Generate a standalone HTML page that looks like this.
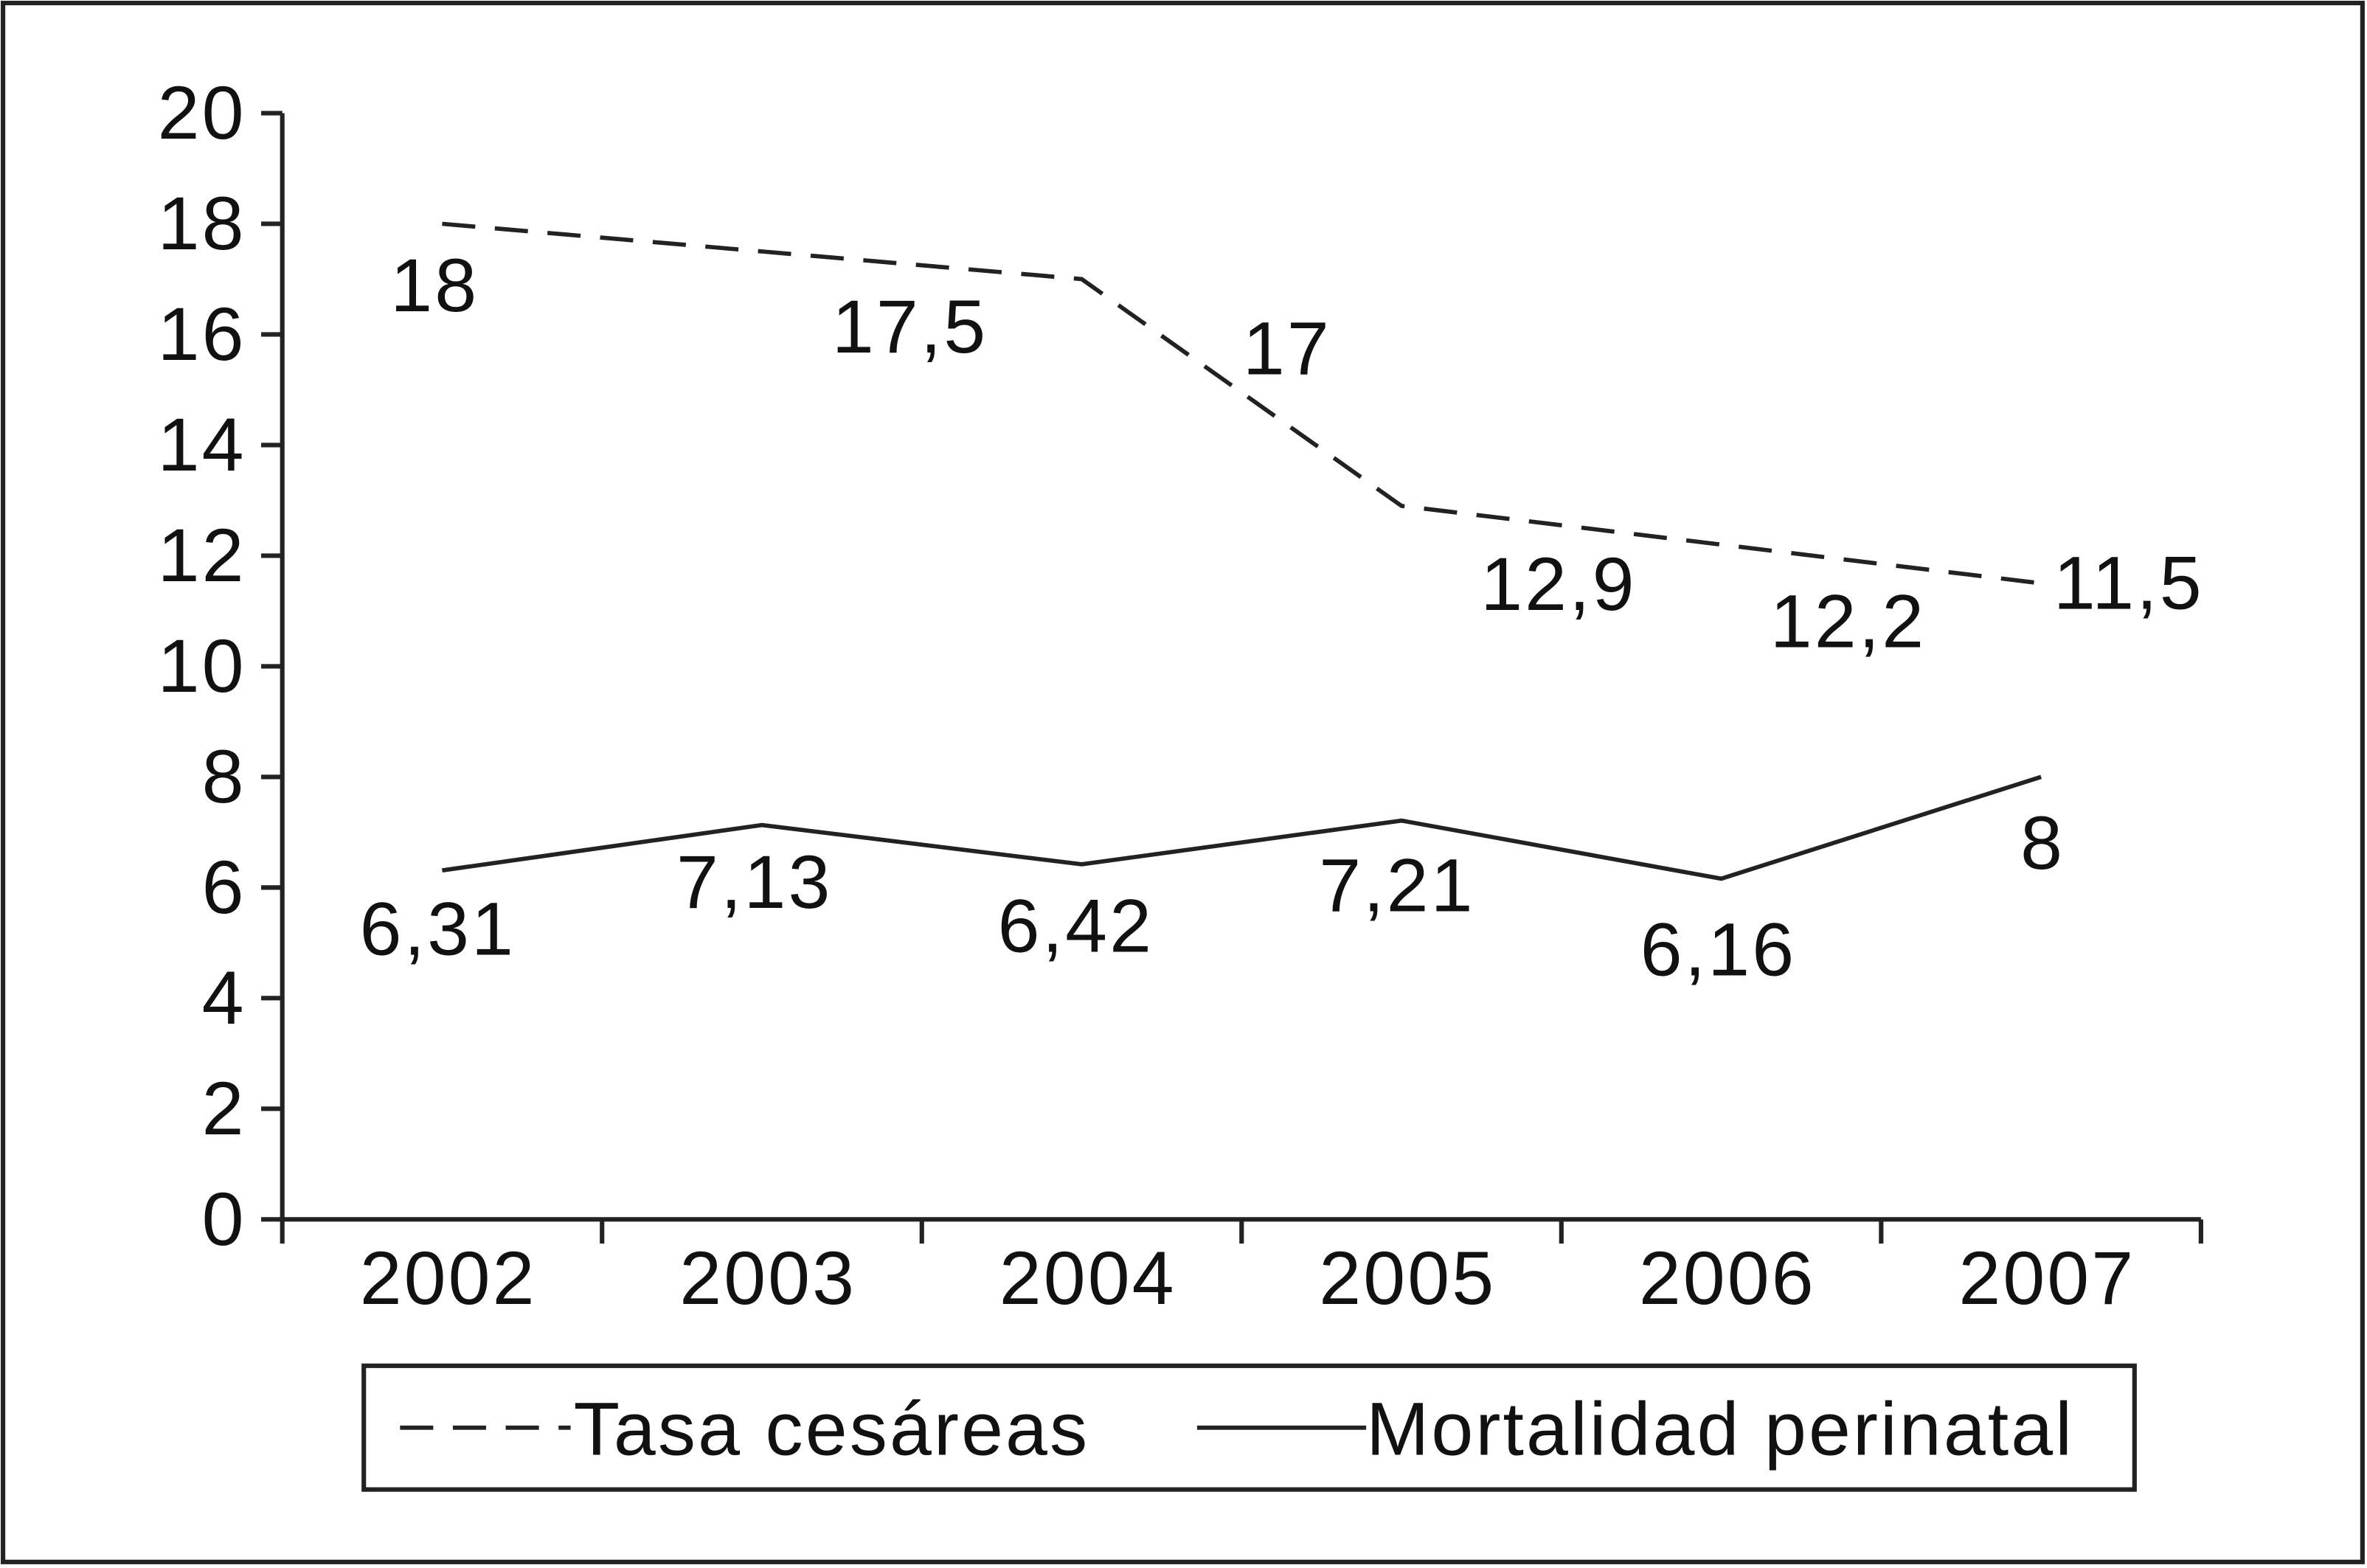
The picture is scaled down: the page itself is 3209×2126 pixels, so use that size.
<!DOCTYPE html>
<html><head><meta charset="utf-8"><style>
html,body{margin:0;padding:0;background:#fff;}
svg{display:block;}
text{font-family:"Liberation Sans",Arial,sans-serif;fill:#111;letter-spacing:1.5px;}
</style></head><body>
<svg id="chart" width="3209" height="2126" viewBox="0 0 1568 1039" preserveAspectRatio="none" xmlns="http://www.w3.org/2000/svg">
<rect x="2" y="2" width="1563" height="1033" fill="#fff" stroke="#222" stroke-width="3"/>
<g id="axes"></g>
<g id="series"></g>
<g>
<rect x="241" y="905" width="1173" height="82" fill="none" stroke="#222" stroke-width="3"/>
<line x1="265" y1="946" x2="378" y2="946" stroke="#222" stroke-width="2.8" stroke-dasharray="22,13"/>
<text x="380" y="964" font-size="50">Tasa cesáreas</text>
<line x1="793" y1="946" x2="905" y2="946" stroke="#222" stroke-width="2.8"/>
<text x="905" y="964" font-size="50">Mortalidad perinatal</text>
</g>
</svg>
<script>
const categories = ["2002","2003","2004","2005","2006","2007"];
const cesareas = [18, 17.5, 17, 12.9, 12.2, 11.5];
const mortalidad = [6.31, 7.13, 6.42, 7.21, 6.16, 8];
const cesareasLabels = ["18","17,5","17","12,9","12,2","11,5"];
const mortalidadLabels = ["6,31","7,13","6,42","7,21","6,16","8"];
const yTicks = [0,2,4,6,8,10,12,14,16,18,20];

const NS = "http://www.w3.org/2000/svg";
const x0 = 187, x1 = 1458, yBase = 808, yTop = 75;
const band = (x1 - x0) / categories.length;
function xPos(i){ return x0 + band * (i + 0.5); }
function yPos(v){ return yBase - (v / 20) * (yBase - yTop); }
function mk(tag, attrs, parent){ const e = document.createElementNS(NS, tag); for (const k in attrs) e.setAttribute(k, attrs[k]); parent.appendChild(e); return e; }

const axes = document.getElementById("axes");
const series = document.getElementById("series");
let el = mk("line", {x1:x0, y1:yTop, x2:x0, y2:yBase, stroke:"#222", "stroke-width":3}, axes);


el = mk("line", {x1:x0, y1:yBase, x2:x1, y2:yBase, stroke:"#222", "stroke-width":3}, axes);


yTicks.forEach(v => {
  const y = yPos(v);
  let t = mk("line", {x1:x0-14, y1:y, x2:x0, y2:y, stroke:"#222", "stroke-width":3}, axes);
  
  
  let l = mk("text", {x:x0-24, y:y+17, "font-size":50, "text-anchor":"end"}, axes);
  l.textContent = v;
  
  
});
for (let i = 0; i <= categories.length; i++) {
  const x = x0 + band * i;
  let t = mk("line", {x1:x, y1:yBase, x2:x, y2:yBase+16, stroke:"#222", "stroke-width":3}, axes);
  
  
}
categories.forEach((c, i) => {
  let l = mk("text", {x:xPos(i)+4, y:864, "font-size":50, "text-anchor":"middle"}, axes);
  l.textContent = c;
  
  
});

function pts(arr){ return arr.map((v,i) => xPos(i) + "," + yPos(v)).join(" "); }
el = mk("polyline", {points:pts(cesareas), fill:"none", stroke:"#222", "stroke-width":2.8, "stroke-dasharray":"22,13"}, series);


el = mk("polyline", {points:pts(mortalidad), fill:"none", stroke:"#222", "stroke-width":2.8}, series);



const cesDx = [-5, 98, 136, 104, 84, 58];
const cesDy = [58, 67, 63, 69, 68, 17];
const morDx = [-3, -5, -4, -3, -2, 1];
const morDy = [56, 55, 58, 60, 64, 61];
cesareas.forEach((v, i) => {
  let l = mk("text", {x:xPos(i)+cesDx[i], y:yPos(v)+cesDy[i], "font-size":50, "text-anchor":"middle"}, series);
  l.textContent = cesareasLabels[i];
  
  
});
mortalidad.forEach((v, i) => {
  let l = mk("text", {x:xPos(i)+morDx[i], y:yPos(v)+morDy[i], "font-size":50, "text-anchor":"middle"}, series);
  l.textContent = mortalidadLabels[i];
  
  
});
</script>
</body></html>
